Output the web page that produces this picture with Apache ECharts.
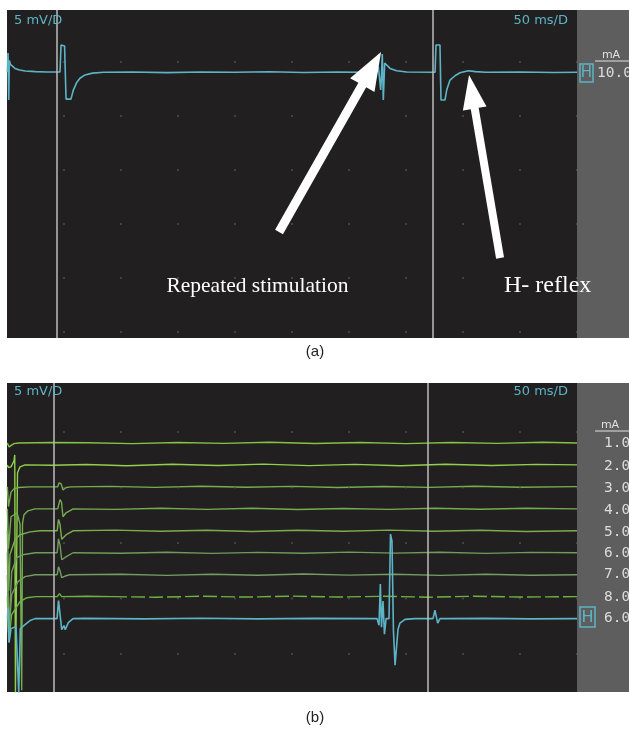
<!DOCTYPE html>
<html><head><meta charset="utf-8">
<script src="https://cdn.jsdelivr.net/npm/echarts@6/dist/echarts.min.js"></script>
<style>html,body{margin:0;padding:0;background:#fff}#c{width:629px;height:744px}</style>
</head><body><div id="c"></div>
<script>
// ---------- labels ----------
const scaleLabelV = '5 mV/D';
const scaleLabelT = '50 ms/D';
const currentUnit = 'mA';
const currentA = '10.0';
const currentsB = ['1.0','2.0','3.0','4.0','5.0','6.0','7.0','8.0','6.0'];
const annotations = ['Repeated stimulation', 'H- reflex'];
const panelLabels = ['(a)', '(b)'];

// ---------- cursor positions (ms) ----------
const cursorsA = [43.9, 373.7];
const cursorsB = [41.2, 369.3];

// ---------- panel (a) trace: [time ms, mV] ----------
const traceA = [[0.3,0],[0.9,1.47],[1.5,-2.1],[2.1,0.9],[3,0.6],[4.5,0.45],[7,0.3],[11,0.18],[16,0.1],[25,0.05],[35,0.02],[46.5,0.02],[47.4,2.08],[50.5,2.0],[51.8,-2.04],[56.1,-2.04],[58,-1.4],[61,-0.8],[64,-0.45],[68.4,-0.2],[75,-0.06],[85,0],[110,0.03],[140,-0.02],[170,0.03],[200,0],[230,0.04],[260,-0.01],[290,0.03],[315,0],[324.3,0],[325.7,0.43],[326.6,-0.28],[327.8,-1.35],[328.3,-0.6],[329.2,1.4],[329.8,1.4],[330.1,-2.11],[330.7,-2.11],[331.3,0.71],[333,0.63],[336,0.3],[341.8,0.12],[350.6,0.02],[375.5,0],[376.3,2.08],[379.8,2.08],[380.7,-2.11],[384.2,-2.11],[385.7,-1.35],[388.6,-0.59],[393,-0.26],[397.4,-0.03],[404.6,0.12],[411,0.05],[420,0],[450,0.02],[480,-0.01],[500,0]];

// ---------- panel (b) traces: [time ms, mV relative to own baseline] ----------
const traceB1 = [[0.3,0],[0.9,0.15],[1.8,-0.3],[3.5,-0.15],[6,-0.05],[10,0],[40,0.03],[70,0.02],[110,-0.05],[150,0.04],[190,-0.03],[230,0.05],[270,-0.04],[310,0.03],[350,-0.05],[390,0.04],[430,-0.03],[470,0.05],[500,0]];
const traceB2 = [[0.3,0],[1.2,-0.2],[3.5,-0.15],[6.1,0.3],[6.8,0.76],[7.4,-17.3],[8.2,-17.3],[9.2,-0.6],[11.4,-0.15],[15.8,0],[40,-0.03],[70,0.03],[105,-0.06],[145,0.05],[185,-0.04],[225,0.06],[265,-0.05],[305,0.04],[345,-0.06],[385,0.05],[425,-0.04],[465,0.04],[500,0]];
const traceB3 = [[0.3,0],[1.3,-1.5],[3.5,-0.4],[6.1,-0.15],[10,-0.05],[20,0],[44.5,0],[45.6,0.3],[47.4,0.25],[49.1,-0.23],[52,-0.05],[56,0],[90,0.04],[130,-0.04],[170,0.05],[210,-0.03],[250,0.04],[290,-0.05],[330,0.03],[370,-0.04],[410,0.05],[450,-0.03],[500,0.02]];
const traceB4 = [[0.3,0],[1.3,-3.04],[3.5,-0.6],[8.8,-0.3],[11.4,-1.14],[12.3,-1.2],[12.9,-13.8],[13.6,-1.1],[14.9,-0.45],[18.4,-0.15],[24.6,0],[44.5,0],[46.5,0.7],[47.8,0.5],[49.1,-0.6],[51.8,-0.3],[53.5,-0.2],[58,0],[95,-0.04],[135,0.05],[175,-0.04],[215,0.04],[255,-0.05],[295,0.03],[335,-0.04],[375,0.05],[415,-0.03],[455,0.04],[500,0]];
const traceB5 = [[0.3,0],[1.5,-4.56],[2.6,-1.8],[7.0,-0.68],[11.4,-0.3],[20.2,-0.08],[29,0],[44,0],[45.2,0.87],[46.5,0.5],[48,-0.65],[52.4,-0.27],[57.9,0],[95,0.05],[135,-0.04],[175,0.04],[215,-0.05],[255,0.04],[295,-0.03],[335,0.05],[375,-0.04],[415,0.04],[455,-0.05],[500,0]];
const traceB6 = [[0.3,0],[1.5,-6.08],[4.1,-1.44],[8.5,-0.38],[14,-0.15],[24.6,0],[44,0],[45.2,1.06],[46.5,0.6],[48,-0.53],[52.4,-0.28],[57.9,0],[100,-0.04],[140,0.04],[180,-0.05],[220,0.03],[260,-0.04],[300,0.05],[340,-0.03],[380,0.04],[420,-0.05],[460,0.03],[500,0]];
const traceB7 = [[0.3,0],[1.5,-4.56],[4.1,-1.52],[9.6,-0.53],[15.8,-0.15],[24.6,0],[44,0],[45.2,0.6],[46.5,0.3],[48,-0.23],[51,-0.1],[55,0],[100,0.04],[140,-0.05],[180,0.03],[220,-0.04],[260,0.05],[300,-0.03],[340,0.04],[380,-0.05],[420,0.03],[460,-0.04],[500,0]];
const traceB8 = [[0.3,0],[1.5,-3.42],[4.1,-1.37],[11.4,-0.38],[17.5,-0.08],[25,0],[44,0],[46,0.23],[48,0],[70,0.03],[93,0],[130,-0.04],[170,0.03],[210,-0.03],[250,0.04],[290,-0.03],[330,0.03],[370,-0.04],[410,0.03],[450,-0.03],[500,0]];
const traceB9 = [[0.4,0],[0.9,0.84],[1.8,-1.83],[3.5,-0.76],[7.9,-0.6],[9.6,-0.45],[10.3,-5.63],[11.7,-0.76],[15.8,-0.46],[20.2,-0.15],[24.6,0],[43.9,0],[45.2,1.37],[46.1,1.3],[48,-0.84],[50,-0.53],[51.1,-0.84],[53.8,-0.3],[57.9,0],[68.4,0.02],[120,-0.02],[170,0.03],[220,-0.02],[270,0.02],[324.6,0],[326.3,-0.5],[327.5,2.63],[328.5,-0.65],[329.8,1.33],[331.1,-1.18],[332.5,0],[335.1,0],[336.4,6.43],[337.7,5.89],[339,-0.95],[340.4,-3.54],[341.7,-3.54],[343,-0.8],[344.7,-0.34],[349.1,-0.06],[357.9,0],[373.7,0],[375.4,0.64],[377.8,-0.34],[379.8,0],[381.1,-0.15],[385.7,0],[420,0.02],[460,-0.02],[500,0]];
const tracesB = [traceB1, traceB2, traceB3, traceB4, traceB5, traceB6, traceB7, traceB8, traceB9];

// ---------- screen grid (dots) ----------
const dotTimes = [50,100,150,200,250,300,350,400,450,500];
const dotRowsA = [0.79,-3.33,-7.45,-11.56,-15.68,-19.8];
const dotRowsB = [-3.73,-7.95,-12.17,-16.39,-20.61];

// ---------- annotation arrows (data coords of panel a) ----------
const arrowsA = [
  {from:[238.6,-12.17], to:[328.1,1.55], headLen:38, headW:28, shaft:9},
  {from:[432.5,-14.15], to:[405.3,-0.2], headLen:34, headW:24, shaft:8}
];

// ---------- style ----------
const CYAN = '#5db4c6';
const greens = ['#84c441','#8fd14a','#76ad4e','#74ad50','#79ae4c','#6f9c5c','#749d62','#6cb343'];
const DARK = '#221f20', GRAY = '#5e5e5e', CURSOR = '#bdbdbd';
const B_FIRST = -4.56, B_GAP = 1.67;

const chart = echarts.init(document.getElementById('c'), null, {renderer:'canvas', width:629, height:744});

function dotData(rows){ const d=[]; rows.forEach(r=>dotTimes.forEach(t=>d.push([t,r]))); return d; }
function cursorLine(xs){ return {symbol:'none', silent:true, label:{show:false}, animation:false,
  lineStyle:{color:CURSOR, width:1.5, type:'solid'}, data: xs.map(x=>({xAxis:x}))}; }

const series = [];
series.push({type:'scatter', xAxisIndex:0, yAxisIndex:0, data:dotData(dotRowsA), symbolSize:2, itemStyle:{color:'#5a5a5a'}, silent:true});
series.push({type:'scatter', xAxisIndex:1, yAxisIndex:1, data:dotData(dotRowsB), symbolSize:2, itemStyle:{color:'#5a5a5a'}, silent:true});
series.push({type:'line', xAxisIndex:0, yAxisIndex:0, data:traceA, showSymbol:false, lineStyle:{color:CYAN, width:1.6}, markLine:cursorLine(cursorsA), z:3});
tracesB.forEach((tr,k)=>{
  const off = B_FIRST - B_GAP*k;
  const pts = tr.map(p=>[p[0], p[1]+off]);
  const col = k===8 ? CYAN : greens[k];
  if (k===7) {
    series.push({type:'line', xAxisIndex:1, yAxisIndex:1, data:pts.filter(p=>p[0]<=93), showSymbol:false, lineStyle:{color:col, width:1.4}});
    series.push({type:'line', xAxisIndex:1, yAxisIndex:1, data:pts.filter(p=>p[0]>=93), showSymbol:false, lineStyle:{color:col, width:1.4, type:[14,4]}});
  } else {
    const s = {type:'line', xAxisIndex:1, yAxisIndex:1, data:pts, showSymbol:false, lineStyle:{color:col, width:k===8?1.6:1.4}, z: k===8?4:2};
    if (k===8) s.markLine = cursorLine(cursorsB);
    series.push(s);
  }
});

chart.setOption({
  animation:false,
  backgroundColor:'#ffffff',
  grid:[
    {left:7, top:10, width:570, height:328, show:true, backgroundColor:DARK, borderWidth:0},
    {left:7, top:383, width:570, height:309, show:true, backgroundColor:DARK, borderWidth:0}
  ],
  xAxis:[
    {gridIndex:0, type:'value', min:0, max:500, show:false},
    {gridIndex:1, type:'value', min:0, max:500, show:false}
  ],
  yAxis:[
    {gridIndex:0, type:'value', min:-20.25, max:4.75, show:false},
    {gridIndex:1, type:'value', min:-23.5, max:0, show:false}
  ],
  series: series
});

// ---------- graphics ----------
function arrowPoly(a){
  const p0 = chart.convertToPixel({gridIndex:0}, a.from);
  const p1 = chart.convertToPixel({gridIndex:0}, a.to);
  const dx=p1[0]-p0[0], dy=p1[1]-p0[1], len=Math.hypot(dx,dy);
  const ux=dx/len, uy=dy/len, nx=-uy, ny=ux;
  const bx=p1[0]-ux*a.headLen, by=p1[1]-uy*a.headLen;
  const w=a.shaft/2, W=a.headW/2;
  return [[p0[0]+nx*w,p0[1]+ny*w],[bx+nx*w,by+ny*w],[bx+nx*W,by+ny*W],[p1[0],p1[1]],[bx-nx*W,by-ny*W],[bx-nx*w,by-ny*w],[p0[0]-nx*w,p0[1]-ny*w]];
}
function txt(text,x,y,font,fill,align){
  return {type:'text', x:x, y:y, silent:true, z:100, style:{text:text, font:font, fill:fill, textAlign:align||'left', textVerticalAlign:'middle', verticalAlign:'middle'}};
}
const g = [];
g.push({type:'rect', shape:{x:577,y:10,width:52,height:328}, style:{fill:GRAY}, z:50, silent:true});
g.push({type:'rect', shape:{x:577,y:383,width:52,height:309}, style:{fill:GRAY}, z:50, silent:true});
[21, 392].forEach(y=>{
  g.push(txt(scaleLabelV, 14, y, '13px "DejaVu Sans"', CYAN, 'left'));
  g.push(txt(scaleLabelT, 568, y, '13px "DejaVu Sans"', CYAN, 'right'));
});
// panel (a) side
g.push(txt(currentUnit, 611, 55, '11px "DejaVu Sans"', '#e0e0e0', 'center'));
g.push({type:'line', shape:{x1:595,y1:61,x2:629,y2:61}, style:{stroke:'#e0e0e0', lineWidth:1}, z:60, silent:true});
g.push({type:'rect', shape:{x:580,y:64,width:13,height:18}, style:{fill:'none', stroke:CYAN, lineWidth:1.5}, z:60, silent:true});
g.push(txt('H', 586.5, 73.5, '15px "DejaVu Sans"', CYAN, 'center'));
g.push(txt(currentA, 597, 73, '14.5px "DejaVu Sans Mono"', '#dcdcdc', 'left'));
// panel (b) side
g.push(txt(currentUnit, 610, 425, '11px "DejaVu Sans"', '#e0e0e0', 'center'));
g.push({type:'line', shape:{x1:595,y1:431,x2:629,y2:431}, style:{stroke:'#e0e0e0', lineWidth:1}, z:60, silent:true});
const labelY = [443,466,488,510,532,553,574,597,618];
currentsB.forEach((c,i)=>g.push(txt(c, 604, labelY[i], '14.5px "DejaVu Sans Mono"', '#dcdcdc', 'left')));
g.push({type:'rect', shape:{x:580,y:607,width:15,height:20}, style:{fill:'none', stroke:CYAN, lineWidth:1.5}, z:60, silent:true});
g.push(txt('H', 587.5, 617.5, '16px "DejaVu Sans"', CYAN, 'center'));
// annotations
g.push(txt(annotations[0], 257.5, 286, '21.5px "Liberation Serif"', '#ffffff', 'center'));
g.push(txt(annotations[1], 504, 286, '24px "Liberation Serif"', '#ffffff', 'left'));
arrowsA.forEach(a=>g.push({type:'polygon', shape:{points:arrowPoly(a)}, style:{fill:'#ffffff'}, z:80, silent:true}));
g.push(txt(panelLabels[0], 315, 352, '15px "Liberation Sans"', '#222', 'center'));
g.push(txt(panelLabels[1], 315, 718, '15px "Liberation Sans"', '#222', 'center'));

chart.setOption({graphic: g});
</script></body></html>
